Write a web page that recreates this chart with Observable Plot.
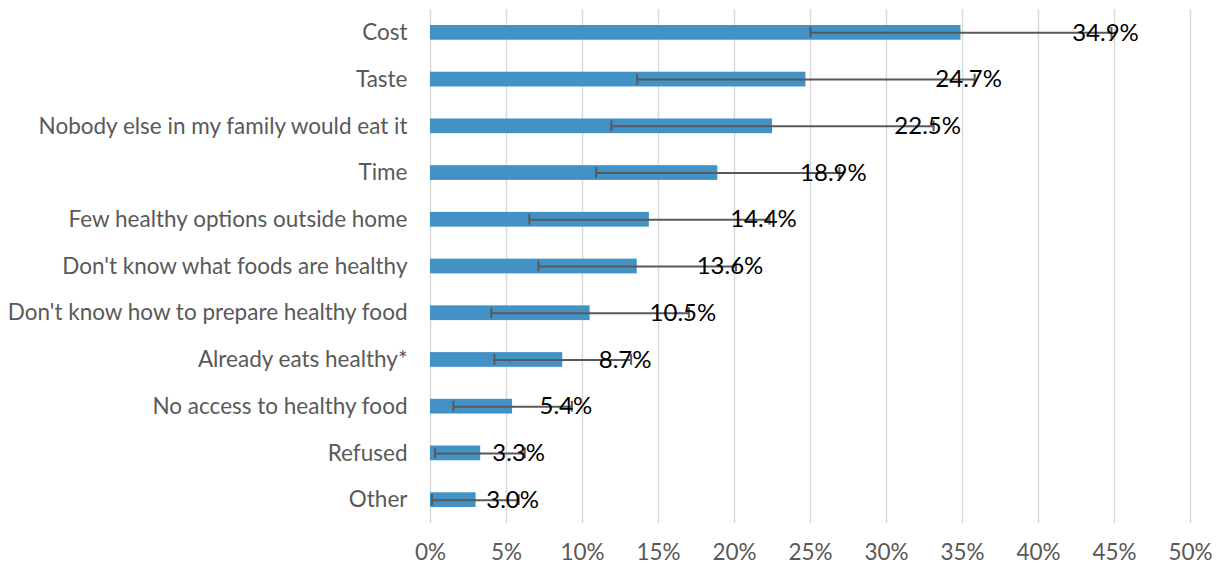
<!DOCTYPE html>
<html>
<head>
<meta charset="utf-8">
<script src="https://cdn.jsdelivr.net/npm/d3@7"></script>
<script src="https://cdn.jsdelivr.net/npm/@observablehq/plot@0.6"></script>
<style>
  html, body { margin: 0; padding: 0; background: #fff; }
  #chart svg { display: block; }
</style>
</head>
<body>
<div id="chart"></div>
<script>
const categories = [
  "Cost",
  "Taste",
  "Nobody else in my family would eat it",
  "Time",
  "Few healthy options outside home",
  "Don't know what foods are healthy",
  "Don't know how to prepare healthy food",
  "Already eats healthy*",
  "No access to healthy food",
  "Refused",
  "Other"
];
const values = [34.9, 24.7, 22.5, 18.9, 14.4, 13.6, 10.5, 8.7, 5.4, 3.3, 3.0];
const lower  = [25.0, 13.6, 11.9, 10.9, 6.5, 7.1, 4.0, 4.2, 1.5, 0.3, 0.1];
const upper  = [44.8, 35.8, 33.1, 26.9, 22.3, 20.1, 17.0, 13.2, 9.3, 6.2, 5.8];
const xTicks = [0, 5, 10, 15, 20, 25, 30, 35, 40, 45, 50];

const data = categories.map((c, i) => ({
  cat: c, value: values[i], lo: lower[i], hi: upper[i]
}));

const font = "Lato, 'Open Sans', sans-serif";

const chart = Plot.plot({
  width: 1227,
  height: 568,
  marginLeft: 430,
  marginRight: 37,
  marginTop: 9,
  marginBottom: 45,
  style: { fontFamily: font, background: "#fff" },
  x: { domain: [0, 50] },
  y: { domain: categories, padding: 0, round: false },
  marks: [
    Plot.gridX(xTicks, { stroke: "#d9d9d9", strokeOpacity: 1, strokeWidth: 1.5 }),
    Plot.axisX(xTicks, {
      tickSize: 0, tickPadding: 21, tickFormat: d => d + "%",
      fontSize: 22.5, fill: "#595959", label: null
    }),
    Plot.axisY({
      tickSize: 0, tickPadding: 23, fontSize: 22.5, fill: "#595959", label: null
    }),
    Plot.barX(data, {
      x: "value", y: "cat", fill: "#4292c6", insetTop: 16, insetBottom: 16
    }),
    Plot.ruleY(data, {
      x1: "lo", x2: "hi", y: "cat", stroke: "#595959", strokeWidth: 2
    }),
    Plot.tickX(data, {
      x: "lo", y: "cat", stroke: "#595959", strokeWidth: 2, insetTop: 18, insetBottom: 18
    }),
    Plot.tickX(data, {
      x: "hi", y: "cat", stroke: "#595959", strokeWidth: 2, insetTop: 18, insetBottom: 18
    }),
    Plot.text(data, {
      x: "hi", y: "cat", text: d => d.value.toFixed(1) + "%",
      textAnchor: "middle", dx: -6, fontSize: 24, fill: "#000"
    })
  ]
});

document.getElementById("chart").append(chart);
</script>
</body>
</html>
